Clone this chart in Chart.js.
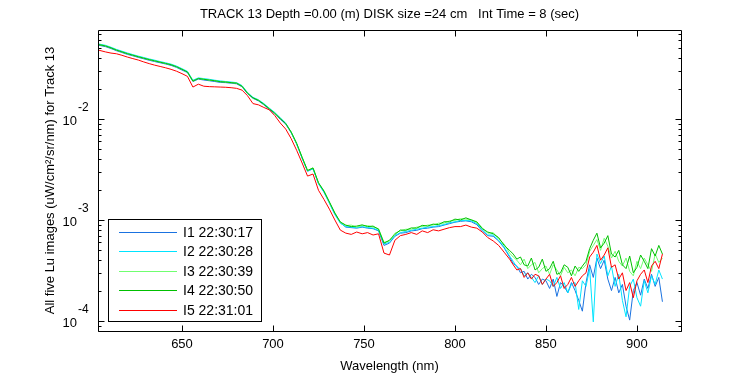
<!DOCTYPE html>
<html>
<head>
<meta charset="utf-8">
<script src="https://cdn.jsdelivr.net/npm/chart.js@4.4.1/dist/chart.umd.min.js"></script>
<style>
  html, body { margin: 0; padding: 0; background: #fff; }
</style>
</head>
<body>
<canvas id="luChart" width="750" height="375"></canvas>
<script>
// wavelength grid (nm); finer where the spectra get noisy
const wavelength = [
  604, 608, 611, 614, 617, 620, 623, 626, 629, 632,
  635, 638, 641, 644, 647, 650, 653, 656, 659, 662,
  665, 668, 671, 674, 677, 680, 683, 686, 689, 692,
  695, 698, 701, 704, 707, 710, 713, 716, 719, 722,
  725, 728, 731, 734, 737, 740, 743, 746, 749, 752,
  755, 758, 761, 764, 767, 770, 773, 776, 779, 782,
  785, 788, 791, 794, 797, 800, 803, 806, 809, 812,
  815, 818, 821, 824, 827,
  830, 832, 834, 836, 838, 840, 842, 844, 846, 848,
  850, 852, 854, 856, 858, 860, 862, 864, 866, 868,
  870, 872, 874, 876, 878, 880, 882, 884, 886, 888,
  890, 892, 894, 896, 898, 900, 902, 904, 906, 908,
  910, 912, 914
];

// Lu, uW/cm^2/sr/nm
const i1 = [
  5.38e-2, 5.20e-2, 4.98e-2, 4.74e-2, 4.55e-2, 4.36e-2, 4.22e-2, 4.07e-2, 3.94e-2, 3.81e-2,
  3.70e-2, 3.60e-2, 3.50e-2, 3.39e-2, 3.24e-2, 3.05e-2, 2.88e-2, 2.35e-2, 2.48e-2, 2.43e-2,
  2.39e-2, 2.35e-2, 2.30e-2, 2.29e-2, 2.26e-2, 2.23e-2, 2.08e-2, 1.78e-2, 1.60e-2, 1.51e-2,
  1.38e-2, 1.24e-2, 1.12e-2, 9.95e-3, 8.88e-3, 7.30e-3, 5.66e-3, 4.11e-3, 3.04e-3, 3.22e-3,
  2.30e-3, 1.90e-3, 1.49e-3, 1.15e-3, 9.40e-4, 8.50e-4, 8.40e-4, 8.30e-4, 8.50e-4, 8.30e-4,
  8.20e-4, 7.80e-4, 5.60e-4, 5.90e-4, 6.90e-4, 7.40e-4, 7.50e-4, 7.80e-4, 7.90e-4, 8.20e-4,
  8.30e-4, 8.50e-4, 8.60e-4, 8.90e-4, 9.20e-4, 9.50e-4, 9.70e-4, 9.80e-4, 9.60e-4, 9.00e-4,
  7.80e-4, 7.00e-4, 6.90e-4, 6.20e-4, 5.30e-4,
  4.30e-4, 3.70e-4, 3.50e-4, 3.00e-4, 3.10e-4, 2.60e-4, 2.90e-4, 2.70e-4, 2.30e-4, 2.60e-4,
  2.50e-4, 2.10e-4, 2.60e-4, 1.75e-4, 2.40e-4, 2.20e-4, 1.90e-4, 2.40e-4, 2.00e-4, 1.60e-4,
  1.25e-4, 2.40e-4, 3.60e-4, 2.70e-4, 4.20e-4, 3.30e-4, 4.00e-4, 2.60e-4, 2.00e-4, 2.70e-4,
  1.90e-4, 2.30e-4, 1.40e-4, 1.02e-4, 2.00e-4, 2.40e-4, 1.80e-4, 2.60e-4, 2.10e-4, 2.90e-4,
  2.20e-4, 2.70e-4, 1.55e-4
];
const i2 = [
  5.54e-2, 5.36e-2, 5.13e-2, 4.88e-2, 4.69e-2, 4.50e-2, 4.34e-2, 4.19e-2, 4.06e-2, 3.93e-2,
  3.82e-2, 3.70e-2, 3.60e-2, 3.49e-2, 3.34e-2, 3.15e-2, 2.96e-2, 2.42e-2, 2.55e-2, 2.51e-2,
  2.47e-2, 2.42e-2, 2.38e-2, 2.35e-2, 2.32e-2, 2.29e-2, 2.14e-2, 1.83e-2, 1.64e-2, 1.55e-2,
  1.42e-2, 1.28e-2, 1.16e-2, 1.03e-2, 9.10e-3, 7.40e-3, 5.65e-3, 4.10e-3, 3.05e-3, 3.22e-3,
  2.28e-3, 1.88e-3, 1.46e-3, 1.13e-3, 9.30e-4, 8.60e-4, 8.50e-4, 8.40e-4, 8.60e-4, 8.40e-4,
  8.30e-4, 7.90e-4, 5.80e-4, 6.00e-4, 7.00e-4, 7.50e-4, 7.70e-4, 7.90e-4, 8.10e-4, 8.30e-4,
  8.50e-4, 8.60e-4, 8.80e-4, 9.00e-4, 9.40e-4, 9.60e-4, 9.90e-4, 9.90e-4, 9.80e-4, 9.20e-4,
  8.00e-4, 7.10e-4, 7.10e-4, 6.30e-4, 5.40e-4,
  4.40e-4, 3.90e-4, 3.40e-4, 3.30e-4, 2.80e-4, 3.00e-4, 2.70e-4, 2.40e-4, 2.80e-4, 2.30e-4,
  2.60e-4, 2.50e-4, 2.20e-4, 2.70e-4, 2.10e-4, 2.40e-4, 1.90e-4, 2.30e-4, 2.40e-4, 1.30e-4,
  2.50e-4, 2.20e-4, 3.30e-4, 9.80e-5, 4.60e-4, 3.70e-4, 4.40e-4, 2.80e-4, 3.50e-4, 2.20e-4,
  2.90e-4, 1.60e-4, 1.10e-4, 2.20e-4, 2.60e-4, 1.70e-4, 1.40e-4, 2.50e-4, 1.90e-4, 2.80e-4,
  2.30e-4, 3.20e-4, 2.60e-4
];
const i3 = [
  5.47e-2, 5.29e-2, 5.05e-2, 4.82e-2, 4.61e-2, 4.44e-2, 4.27e-2, 4.14e-2, 3.99e-2, 3.88e-2,
  3.75e-2, 3.66e-2, 3.54e-2, 3.45e-2, 3.28e-2, 3.11e-2, 2.91e-2, 2.38e-2, 2.51e-2, 2.48e-2,
  2.42e-2, 2.40e-2, 2.33e-2, 2.33e-2, 2.28e-2, 2.27e-2, 2.10e-2, 1.81e-2, 1.61e-2, 1.54e-2,
  1.39e-2, 1.27e-2, 1.13e-2, 1.02e-2, 8.95e-3, 7.45e-3, 5.70e-3, 4.20e-3, 3.07e-3, 3.29e-3,
  2.32e-3, 1.95e-3, 1.50e-3, 1.18e-3, 9.50e-4, 8.80e-4, 8.90e-4, 8.50e-4, 8.80e-4, 8.80e-4,
  8.50e-4, 8.20e-4, 6.00e-4, 6.20e-4, 7.40e-4, 7.80e-4, 8.10e-4, 8.10e-4, 8.50e-4, 8.60e-4,
  8.90e-4, 8.90e-4, 9.30e-4, 9.30e-4, 9.80e-4, 9.90e-4, 1.03e-3, 1.02e-3, 1.01e-3, 9.40e-4,
  8.40e-4, 7.40e-4, 7.50e-4, 6.50e-4, 5.80e-4,
  4.70e-4, 4.30e-4, 4.00e-4, 3.60e-4, 4.10e-4, 3.30e-4, 3.60e-4, 3.80e-4, 3.00e-4, 3.30e-4,
  3.50e-4, 2.90e-4, 3.60e-4, 3.20e-4, 2.80e-4, 3.40e-4, 3.00e-4, 3.20e-4, 2.80e-4, 3.40e-4,
  3.30e-4, 3.60e-4, 4.90e-4, 5.60e-4, 6.40e-4, 5.00e-4, 6.60e-4, 5.50e-4, 4.20e-4, 4.90e-4,
  3.90e-4, 3.50e-4, 4.20e-4, 3.10e-4, 2.80e-4, 3.90e-4, 3.30e-4, 4.20e-4, 3.60e-4, 3.10e-4,
  4.60e-4, 3.80e-4, 4.20e-4
];
const i4 = [
  5.46e-2, 5.28e-2, 5.06e-2, 4.81e-2, 4.62e-2, 4.43e-2, 4.28e-2, 4.13e-2, 4.00e-2, 3.87e-2,
  3.76e-2, 3.65e-2, 3.55e-2, 3.44e-2, 3.29e-2, 3.10e-2, 2.92e-2, 2.37e-2, 2.52e-2, 2.47e-2,
  2.43e-2, 2.39e-2, 2.34e-2, 2.32e-2, 2.29e-2, 2.26e-2, 2.11e-2, 1.80e-2, 1.62e-2, 1.53e-2,
  1.40e-2, 1.26e-2, 1.14e-2, 1.01e-2, 9.02e-3, 7.41e-3, 5.75e-3, 4.17e-3, 3.09e-3, 3.27e-3,
  2.34e-3, 1.93e-3, 1.51e-3, 1.17e-3, 9.55e-4, 8.90e-4, 8.60e-4, 8.70e-4, 8.95e-4, 8.60e-4,
  8.70e-4, 8.10e-4, 5.90e-4, 6.30e-4, 7.20e-4, 7.95e-4, 7.90e-4, 8.35e-4, 8.30e-4, 8.85e-4,
  8.70e-4, 9.10e-4, 9.00e-4, 9.60e-4, 9.60e-4, 1.02e-3, 1.00e-3, 1.05e-3, 1.00e-3, 9.60e-4,
  8.20e-4, 7.60e-4, 7.30e-4, 6.70e-4, 5.60e-4,
  5.00e-4, 4.60e-4, 4.10e-4, 4.30e-4, 3.60e-4, 3.50e-4, 4.20e-4, 3.20e-4, 3.40e-4, 4.10e-4,
  3.10e-4, 3.30e-4, 3.90e-4, 2.90e-4, 3.00e-4, 3.60e-4, 3.40e-4, 2.80e-4, 3.50e-4, 3.10e-4,
  3.50e-4, 3.90e-4, 5.20e-4, 6.30e-4, 7.40e-4, 5.30e-4, 5.90e-4, 7.00e-4, 4.60e-4, 4.30e-4,
  5.00e-4, 3.60e-4, 3.30e-4, 4.40e-4, 3.00e-4, 3.40e-4, 4.50e-4, 3.90e-4, 3.30e-4, 5.20e-4,
  4.40e-4, 5.60e-4, 4.60e-4
];
const i5 = [
  4.81e-2, 4.61e-2, 4.49e-2, 4.42e-2, 4.27e-2, 4.10e-2, 3.96e-2, 3.83e-2, 3.67e-2, 3.53e-2,
  3.41e-2, 3.31e-2, 3.21e-2, 3.10e-2, 2.97e-2, 2.81e-2, 2.64e-2, 2.07e-2, 2.21e-2, 2.11e-2,
  2.09e-2, 2.08e-2, 2.07e-2, 2.06e-2, 2.04e-2, 2.01e-2, 1.93e-2, 1.70e-2, 1.42e-2, 1.38e-2,
  1.30e-2, 1.23e-2, 1.08e-2, 9.12e-3, 7.94e-3, 6.38e-3, 4.90e-3, 3.67e-3, 2.72e-3, 2.85e-3,
  1.97e-3, 1.60e-3, 1.28e-3, 1.00e-3, 7.94e-4, 7.41e-4, 7.20e-4, 7.60e-4, 7.30e-4, 7.50e-4,
  7.10e-4, 7.30e-4, 4.70e-4, 4.50e-4, 6.30e-4, 7.00e-4, 7.20e-4, 7.50e-4, 7.20e-4, 7.80e-4,
  7.50e-4, 8.00e-4, 7.80e-4, 8.10e-4, 8.40e-4, 8.60e-4, 8.60e-4, 8.90e-4, 8.50e-4, 8.30e-4,
  7.60e-4, 6.70e-4, 6.20e-4, 5.60e-4, 4.80e-4,
  4.10e-4, 3.60e-4, 3.20e-4, 3.30e-4, 2.70e-4, 3.00e-4, 2.60e-4, 2.90e-4, 2.80e-4, 2.30e-4,
  2.60e-4, 2.90e-4, 2.20e-4, 2.40e-4, 2.80e-4, 2.10e-4, 2.30e-4, 2.70e-4, 2.20e-4, 2.50e-4,
  2.80e-4, 3.00e-4, 4.30e-4, 4.80e-4, 5.60e-4, 4.00e-4, 4.50e-4, 5.30e-4, 3.40e-4, 3.60e-4,
  2.60e-4, 3.00e-4, 2.00e-4, 2.40e-4, 1.70e-4, 2.50e-4, 2.90e-4, 3.20e-4, 2.40e-4, 3.50e-4,
  3.90e-4, 3.30e-4, 4.60e-4
];

const seriesLabels = ['I1 22:30:17', 'I2 22:30:28', 'I3 22:30:39', 'I4 22:30:50', 'I5 22:31:01'];
const seriesColors = ['#1a72e0', '#00e4ff', '#70ff70', '#00c000', '#ff0000'];
const xTicks = [650, 700, 750, 800, 850, 900];
const yTicks = [1e-4, 1e-3, 1e-2];
const yTickExp = ['-4', '-3', '-2'];
const titleText = 'TRACK 13 Depth =0.00 (m) DISK size =24 cm   Int Time = 8 (sec)';

const FONT = "'Liberation Sans', Arial, Helvetica, sans-serif";
const canvas = document.getElementById('luChart');
const ctx = canvas.getContext('2d');

// box, inward ticks, 10^n labels and title like the matlab figure
const frame = {
  id: 'frame',
  afterDraw(chart) {
    const { ctx, chartArea: a, scales: { x, y } } = chart;
    const L = Math.round(a.left) + 0.5, R = Math.round(a.right) + 0.5;
    const T = Math.round(a.top) + 0.5, B = Math.round(a.bottom) + 0.5;
    ctx.save();
    ctx.strokeStyle = '#000';
    ctx.lineWidth = 1;
    ctx.beginPath();
    ctx.rect(L, T, R - L, B - T);
    xTicks.forEach(v => {
      const px = Math.round(x.getPixelForValue(v)) + 0.5;
      ctx.moveTo(px, B); ctx.lineTo(px, B - 6);
      ctx.moveTo(px, T); ctx.lineTo(px, T + 6);
    });
    [1e-5, 1e-4, 1e-3, 1e-2].forEach(dec => {
      for (let m = 1; m <= 9; m++) {
        const v = m * dec;
        if (v < y.min || v > y.max) continue;
        const py = Math.round(y.getPixelForValue(v)) + 0.5;
        const len = m === 1 ? 6 : 3;
        ctx.moveTo(L, py); ctx.lineTo(L + len, py);
        ctx.moveTo(R, py); ctx.lineTo(R - len, py);
      }
    });
    ctx.stroke();

    ctx.fillStyle = '#000';
    yTicks.forEach((v, k) => {
      const py = y.getPixelForValue(v);
      ctx.textBaseline = 'middle';
      ctx.textAlign = 'right';
      ctx.font = '13px ' + FONT;
      ctx.fillText('10', 77, py + 2);
      ctx.textAlign = 'left';
      ctx.font = '12px ' + FONT;
      ctx.fillText(yTickExp[k], 78, py - 11);
    });

    ctx.font = '13px ' + FONT;
    ctx.textAlign = 'center';
    ctx.textBaseline = 'middle';
    ctx.fillText(titleText, (a.left + a.right) / 2, 14);
    ctx.restore();
  }
};

const legendBox = {
  id: 'legendBox',
  afterDraw(chart) {
    const { ctx } = chart;
    ctx.save();
    ctx.fillStyle = '#fff';
    ctx.fillRect(108, 219, 154, 103);
    ctx.strokeStyle = '#000';
    ctx.lineWidth = 1;
    ctx.strokeRect(108.5, 219.5, 153, 102);
    ctx.font = '14px ' + FONT;
    ctx.textBaseline = 'middle';
    ctx.textAlign = 'left';
    chart.data.datasets.forEach((ds, k) => {
      const yy = Math.round(231.5 + k * 19.5) + 0.5;
      ctx.strokeStyle = ds.borderColor;
      ctx.beginPath();
      ctx.moveTo(119, yy);
      ctx.lineTo(177, yy);
      ctx.stroke();
      ctx.fillStyle = '#000';
      ctx.fillText(ds.label, 183, yy + 0.5);
    });
    ctx.restore();
  }
};

const seriesValues = [i1, i2, i3, i4, i5];
const datasets = seriesValues.map((vals, k) => ({
  label: seriesLabels[k],
  data: wavelength.map((w, i) => ({ x: w, y: vals[i] })),
  borderColor: seriesColors[k],
  backgroundColor: seriesColors[k],
  borderWidth: 1,
  pointRadius: 0,
  tension: 0,
  fill: false,
  order: 4 - k
}));

const chart = new Chart(ctx, {
  type: 'line',
  data: { datasets },
  options: {
    responsive: false,
    animation: false,
    devicePixelRatio: 1,
    events: [],
    layout: { padding: { top: 30, right: 69, bottom: 0, left: 0 } },
    plugins: {
      legend: { display: false },
      tooltip: { enabled: false },
      title: { display: false }
    },
    scales: {
      x: {
        type: 'linear',
        min: 603.85,
        max: 924.2,
        grid: { display: false, drawTicks: false },
        border: { display: false },
        afterBuildTicks: s => { s.ticks = xTicks.map(v => ({ value: v })); },
        afterFit: s => { s.height = 44; },
        ticks: { color: '#000', font: { family: FONT, size: 13 }, padding: 6, maxRotation: 0, autoSkip: false },
        title: {
          display: true,
          text: 'Wavelength (nm)',
          color: '#000',
          font: { family: FONT, size: 13 },
          padding: { top: 0, bottom: 1 }
        }
      },
      y: {
        type: 'logarithmic',
        min: 7.96e-5,
        max: 0.076,
        grid: { display: false, drawTicks: false },
        border: { display: false },
        ticks: { display: false },
        afterFit: s => { s.width = 98; },
        title: {
          display: true,
          text: 'All five Lu images (uW/cm²/sr/nm) for Track 13',
          color: '#000',
          font: { family: FONT, size: 13 },
          padding: { top: 43, bottom: 0 }
        }
      }
    }
  },
  plugins: [frame, legendBox]
});
</script>
</body>
</html>
